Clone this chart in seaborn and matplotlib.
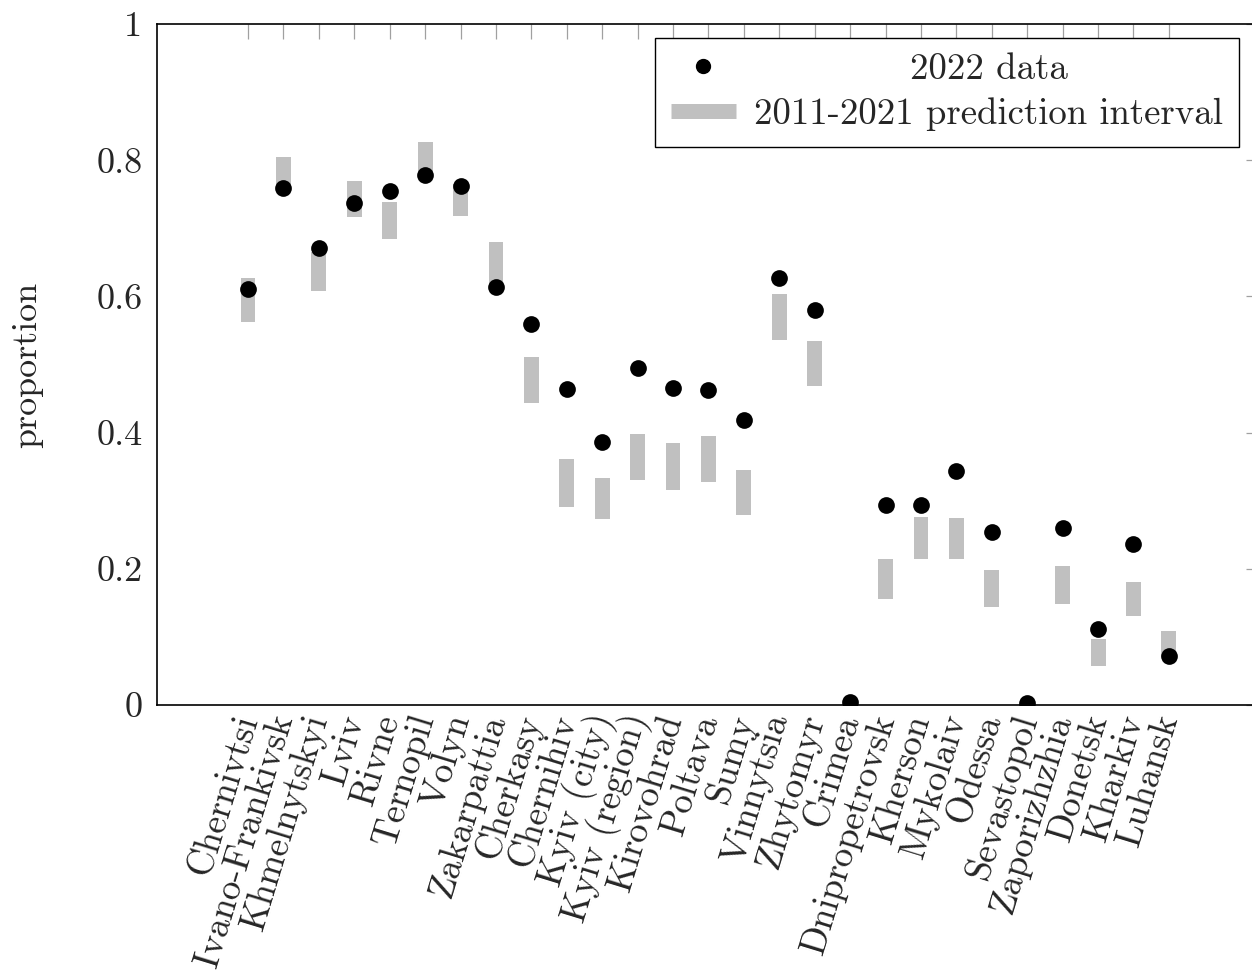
import numpy as np
import pandas as pd
import matplotlib
matplotlib.use("Agg")
import matplotlib.pyplot as plt
import matplotlib.transforms as mtransforms
from matplotlib.lines import Line2D
import seaborn as sns

regions = ["Chernivtsi", "Ivano-Frankivsk", "Khmelnytskyi", "Lviv", "Rivne", "Ternopil",
           "Volyn", "Zakarpattia", "Cherkasy", "Chernihiv", "Kyiv (city)", "Kyiv (region)",
           "Kirovohrad", "Poltava", "Sumy", "Vinnytsia", "Zhytomyr", "Crimea",
           "Dnipropetrovsk", "Kherson", "Mykolaiv", "Odessa", "Sevastopol", "Zaporizhzhia",
           "Donetsk", "Kharkiv", "Luhansk"]
data_2022 = [0.611, 0.759, 0.671, 0.737, 0.755, 0.778, 0.762, 0.614, 0.559, 0.464,
             0.386, 0.495, 0.465, 0.463, 0.419, 0.627, 0.580, 0.004, 0.294, 0.294,
             0.343, 0.254, 0.003, 0.260, 0.112, 0.236, 0.072]
pi_low = [0.563, 0.755, 0.608, 0.717, 0.685, 0.775, 0.718, 0.615, 0.443, 0.291,
          0.273, 0.331, 0.316, 0.327, 0.279, 0.536, 0.468, np.nan, 0.156, 0.214,
          0.214, 0.144, np.nan, 0.149, 0.058, 0.130, 0.070]
pi_high = [0.627, 0.804, 0.665, 0.770, 0.739, 0.827, 0.765, 0.680, 0.511, 0.361,
           0.334, 0.398, 0.385, 0.395, 0.345, 0.603, 0.535, np.nan, 0.214, 0.276,
           0.275, 0.198, np.nan, 0.204, 0.097, 0.180, 0.108]
ytick_labels = ["0", "0.2", "0.4", "0.6", "0.8", "1"]

df = pd.DataFrame({"region": regions, "value": data_2022, "low": pi_low, "high": pi_high})
df["pos"] = np.arange(len(df))

sns.set_style("white")
plt.rcParams["font.family"] = ["serif"]
plt.rcParams["font.serif"] = ["cmr10", "DejaVu Serif"]
plt.rcParams["mathtext.fontset"] = "cm"
plt.rcParams["axes.unicode_minus"] = False
plt.rcParams["axes.formatter.use_mathtext"] = True

FS = 26
GRAY = "#c0c0c0"

W, H = 1252, 971
L, R, T, B = 157, 1261, 24, 705
fig = plt.figure(figsize=(W / 100, H / 100), dpi=100)
ax = fig.add_axes([L / W, 1 - B / H, (R - L) / W, (B - T) / H])

ax.bar(df["pos"], df["high"] - df["low"], bottom=df["low"], width=0.42,
       color=GRAY, linewidth=0, zorder=1)
sns.scatterplot(data=df, x="pos", y="value", ax=ax, color="black", s=145,
                linewidth=0, zorder=3, legend=False)

ax.set_xlim(-2.57, 28.6)
ax.set_ylim(0, 1)
ax.set_xticks(df["pos"])
ax.set_xticklabels(regions, rotation=73, ha="right", va="center",
                   rotation_mode="anchor", fontsize=26.5)
ax.set_yticks([0, 0.2, 0.4, 0.6, 0.8, 1.0])
ax.set_yticklabels(ytick_labels, fontsize=FS)
ax.tick_params(axis="both", direction="in", length=10.8, width=0.9, color="#a0a0a0",
               top=True, right=True)
ax.tick_params(axis="y", pad=10.5)
ax.tick_params(axis="x", pad=7)
ax.set_xlabel("")
ax.set_ylabel("proportion", fontsize=FS)
ax.yaxis.set_label_coords((43 - L) / (R - L), 0.5)
for s in ax.spines.values():
    s.set_color("black")
    s.set_linewidth(1.2)

handles = [Line2D([], [], marker="o", color="black", linestyle="none", markersize=10),
           Line2D([], [], color=GRAY, linewidth=10.8, solid_capstyle="butt")]
leg = ax.legend(handles, ["2022 data", "2011-2021 prediction interval"],
                loc="upper right", bbox_to_anchor=(0.98, 0.98),
                borderaxespad=0, fontsize=26.5, frameon=True, fancybox=False,
                edgecolor="black", framealpha=1, handlelength=1.77, labelspacing=0.3,
                borderpad=0.42, handletextpad=0.5)
leg.get_frame().set_linewidth(1.0)

fig.canvas.draw()
r = fig.canvas.get_renderer()
t1, t2 = leg.get_texts()
w1 = t1.get_window_extent(r).width
w2 = t2.get_window_extent(r).width
dx = (w2 - w1) / 2
t1.set_transform(t1.get_transform() + mtransforms.Affine2D().translate(dx, 0))

fig.savefig("out.png", dpi=100)
